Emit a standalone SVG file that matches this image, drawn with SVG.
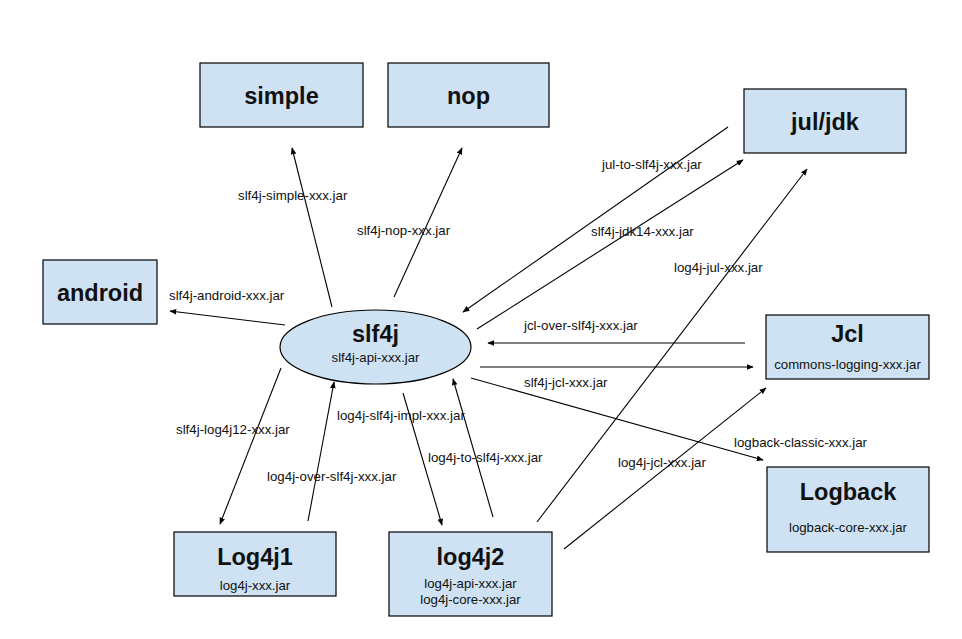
<svg xmlns="http://www.w3.org/2000/svg" width="962" height="639" viewBox="0 0 962 639">
<defs>
<style>
.box{fill:#cfe2f3;stroke:#000;stroke-width:1.2}
.t{font-family:"Liberation Sans",Arial,sans-serif;font-weight:bold;font-size:23.5px;fill:#111;text-anchor:middle}
.s{font-family:"Liberation Sans",Arial,sans-serif;font-size:13.2px;fill:#111;text-anchor:middle}
.l{font-family:"Liberation Sans",Arial,sans-serif;font-size:13.3px;fill:#111}
.c line{stroke:#000;stroke-width:1.1;marker-end:url(#ah)}
</style>
<marker id="ah" viewBox="0 0 10 10" refX="9" refY="5" markerWidth="7" markerHeight="7" markerUnits="userSpaceOnUse" orient="auto">
<path d="M0,1 L10,5 L0,9 z" fill="#000"/>
</marker>
</defs>
<rect width="962" height="639" fill="#fff"/>
<g id="simple"><rect class="box" x="200" y="63" width="163" height="64"/><text class="t" x="281.5" y="104">simple</text></g>
<g id="nop"><rect class="box" x="388" y="63" width="161" height="64"/><text class="t" x="468.5" y="104">nop</text></g>
<g id="juljdk"><rect class="box" x="744" y="89" width="162" height="64"/><text class="t" x="825" y="130">jul/jdk</text></g>
<g id="android"><rect class="box" x="43" y="260" width="114" height="64"/><text class="t" x="100" y="301">android</text></g>
<g id="jcl"><rect class="box" x="766" y="315" width="163" height="64"/><text class="t" x="847.5" y="342">Jcl</text><text class="s" x="847.5" y="369">commons-logging-xxx.jar</text></g>
<g id="logback"><rect class="box" x="767" y="467" width="162" height="85"/><text class="t" x="848" y="500">Logback</text><text class="s" x="848" y="532">logback-core-xxx.jar</text></g>
<g id="log4j1"><rect class="box" x="174" y="532" width="162" height="64"/><text class="t" x="255" y="565">Log4j1</text><text class="s" x="255" y="590">log4j-xxx.jar</text></g>
<g id="log4j2"><rect class="box" x="389" y="532" width="163" height="84"/><text class="t" x="470.5" y="565">log4j2</text><text class="s" x="470.5" y="588">log4j-api-xxx.jar</text><text class="s" x="470.5" y="604">log4j-core-xxx.jar</text></g>
<g id="slf4j"><ellipse class="box" cx="375.5" cy="347" rx="95.5" ry="37"/><text class="t" x="375.5" y="342">slf4j</text><text class="s" x="375.5" y="362">slf4j-api-xxx.jar</text></g>
<g id="connectors" class="c">
<line x1="332" y1="307" x2="292" y2="148"/>
<line x1="394" y1="297" x2="462" y2="148"/>
<line x1="728" y1="127" x2="463" y2="312"/>
<line x1="477" y1="329" x2="743" y2="160"/>
<line x1="537" y1="522" x2="807" y2="169"/>
<line x1="745" y1="343" x2="488" y2="343"/>
<line x1="480" y1="367" x2="753" y2="367"/>
<line x1="471" y1="378" x2="763" y2="460"/>
<line x1="564" y1="549" x2="766" y2="388"/>
<line x1="285" y1="325" x2="170" y2="311"/>
<line x1="281" y1="368" x2="220" y2="524"/>
<line x1="308" y1="521" x2="334" y2="382"/>
<line x1="403" y1="393" x2="442" y2="525"/>
<line x1="493" y1="517" x2="453" y2="379"/>
</g>
<g id="labels">
<text class="l" x="238" y="200">slf4j-simple-xxx.jar</text>
<text class="l" x="357" y="235">slf4j-nop-xxx.jar</text>
<text class="l" x="169" y="300">slf4j-android-xxx.jar</text>
<text class="l" x="602" y="169">jul-to-slf4j-xxx.jar</text>
<text class="l" x="591" y="236">slf4j-jdk14-xxx.jar</text>
<text class="l" x="674" y="272">log4j-jul-xxx.jar</text>
<text class="l" x="524" y="330">jcl-over-slf4j-xxx.jar</text>
<text class="l" x="524" y="387">slf4j-jcl-xxx.jar</text>
<text class="l" x="734" y="447">logback-classic-xxx.jar</text>
<text class="l" x="618" y="467">log4j-jcl-xxx.jar</text>
<text class="l" x="176" y="434">slf4j-log4j12-xxx.jar</text>
<text class="l" x="267" y="481">log4j-over-slf4j-xxx.jar</text>
<text class="l" x="337" y="420">log4j-slf4j-impl-xxx.jar</text>
<text class="l" x="428" y="462">log4j-to-slf4j-xxx.jar</text>
</g>
</svg>
